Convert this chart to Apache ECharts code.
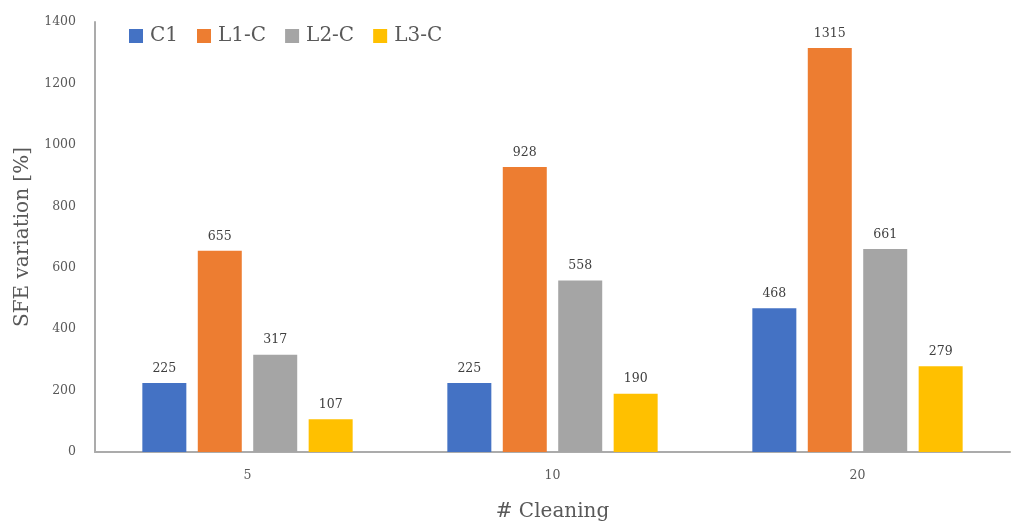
<!DOCTYPE html>
<html>
<head>
<meta charset="utf-8">
<script src="https://cdn.jsdelivr.net/npm/echarts@6/dist/echarts.min.js"></script>
<style>
  html, body { margin: 0; padding: 0; background: #fff; }
  #chart { width: 1011px; height: 527px; }
</style>
</head>
<body>
<div id="chart"></div>
<script>
const categories = ['5', '10', '20'];
const seriesNames = ['C1', 'L1-C', 'L2-C', 'L3-C'];
const c1 = [225, 225, 468];
const l1c = [655, 928, 1315];
const l2c = [317, 558, 661];
const l3c = [107, 190, 279];
const colors = ['#4472C4', '#ED7D31', '#A5A5A5', '#FFC000'];

const font = 'DejaVu Serif';
const values = [c1, l1c, l2c, l3c];

const chart = echarts.init(document.getElementById('chart'));
const option = {
  animation: false,
  color: colors,
  textStyle: { fontFamily: font },
  legend: {
    left: 124,
    top: 21,
    itemWidth: 14,
    itemHeight: 14,
    itemGap: 19,
    icon: 'rect',
    textStyle: { fontFamily: font, fontSize: 20, color: '#595959', padding: [0, 0, 0, 2] },
    data: seriesNames
  },
  grid: { left: 95, right: 1, top: 22, bottom: 72 },
  xAxis: {
    type: 'category',
    data: categories,
    name: '# Cleaning',
    nameLocation: 'middle',
    nameGap: 50,
    nameTextStyle: { fontFamily: font, fontSize: 20, color: '#595959' },
    axisLine: { lineStyle: { color: '#ABABAB', width: 2 } },
    axisTick: { show: false },
    axisLabel: { fontFamily: font, fontSize: 12.5, color: '#595959', margin: 17 }
  },
  yAxis: {
    type: 'value',
    min: 0,
    max: 1400,
    interval: 200,
    name: 'SFE variation [%]',
    nameLocation: 'middle',
    nameGap: 47,
    nameTextStyle: { fontFamily: font, fontSize: 20, color: '#595959' },
    axisLine: { show: true, lineStyle: { color: '#ABABAB', width: 2 } },
    axisTick: { show: false },
    splitLine: { show: false },
    axisLabel: {
      fontFamily: font, fontSize: 12.5, color: '#595959', margin: 19,
      formatter: v => String(v)
    }
  },
  series: seriesNames.map((name, i) => ({
    name: name,
    type: 'bar',
    data: values[i],
    barWidth: 44,
    barGap: '26%',
    label: {
      show: true,
      position: 'top',
      distance: 8,
      fontFamily: font,
      fontSize: 12.5,
      color: '#404040'
    }
  }))
};
chart.setOption(option);
</script>
</body>
</html>
